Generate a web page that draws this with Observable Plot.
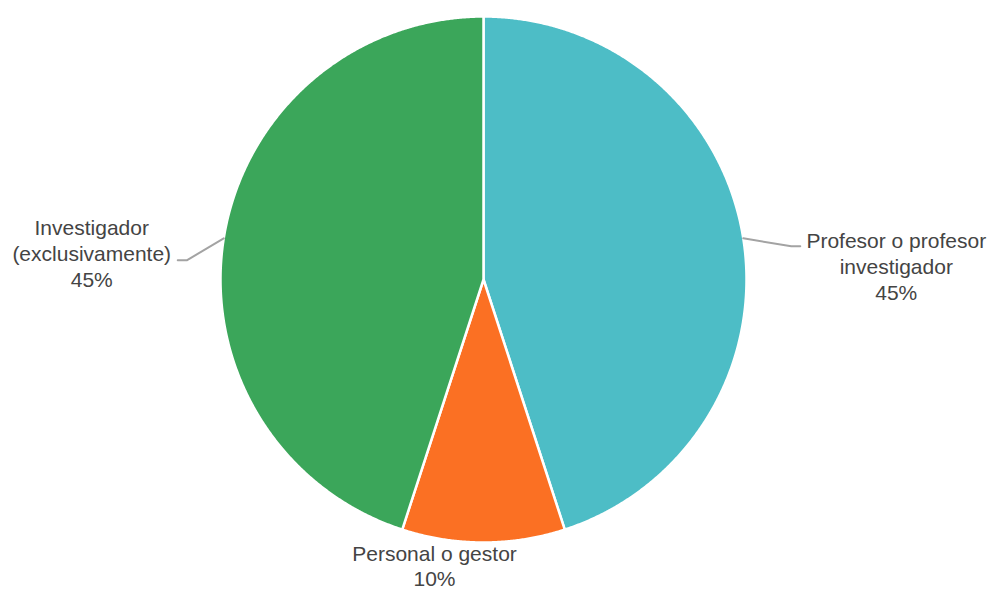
<!DOCTYPE html>
<html><head><meta charset="utf-8">
<script src="https://cdn.jsdelivr.net/npm/d3@7"></script>
<script src="https://cdn.jsdelivr.net/npm/@observablehq/plot@0.6"></script>
<style>body{margin:0;background:#fff;}</style>
</head><body><div id="chart"></div>
<script>
// ---- data ----
const categories = ["Profesor o profesor investigador", "Personal o gestor", "Investigador (exclusivamente)"];
const labelLines = ["Profesor o profesor\ninvestigador", "Personal o gestor", "Investigador\n(exclusivamente)"];
const values = [45, 10, 45];
const colors = ["#4dbdc6", "#fb7023", "#3ba65a"];

// ---- layout (pixels) ----
const W = 990, H = 591, R = 263, CX = 483, CY = 279;
// label block centre and leader elbow, relative to the slice's outer mid-point (px)
const labelLayout = [
  {dx: 153, dy: 27, lh: 1.24, elbow: [48, 8], end: [57, 8]},
  {dx: -49, dy: 23, lh: 1.2, elbow: null, end: null},
  {dx: -132, dy: 14, lh: 1.24, elbow: [-37, 22], end: [-46, 22]}
];

const total = d3.sum(values);
const arcs = d3.pie().sort(null).value(d => d)(values);
const toX = px => px / R, toY = py => -py / R;

const slices = [];
arcs.forEach((a, i) => {
  const n = Math.max(4, Math.ceil((a.endAngle - a.startAngle) / 0.005));
  slices.push({cat: categories[i], x: 0, y: 0});
  for (let k = 0; k <= n; k++) {
    const t = a.startAngle + (a.endAngle - a.startAngle) * k / n;
    slices.push({cat: categories[i], x: Math.sin(t), y: Math.cos(t)});
  }
  slices.push({cat: categories[i], x: 0, y: 0});
});

const labels = [], leaders = [];
arcs.forEach((a, i) => {
  const m = (a.startAngle + a.endAngle) / 2;
  const sx = Math.sin(m), sy = Math.cos(m);
  const L = labelLayout[i];
  const pct = Math.round(values[i] / total * 100) + "%";
  labels.push({text: labelLines[i] + "\n" + pct, x: sx + toX(L.dx), y: sy + toY(L.dy), lh: L.lh});
  if (L.elbow) {
    leaders.push({id: i, x: sx, y: sy});
    leaders.push({id: i, x: sx + toX(L.elbow[0]), y: sy + toY(L.elbow[1])});
    leaders.push({id: i, x: sx + toX(L.end[0]), y: sy + toY(L.end[1])});
  }
});

const textMarks = labels.map(l => Plot.text([l], {x: "x", y: "y", text: "text", fontSize: 21, lineHeight: l.lh, fill: "#444", textAnchor: "middle", lineAnchor: "middle"}));

const chart = Plot.plot({
  width: W, height: H,
  margin: 0,
  style: {fontFamily: "'Liberation Sans', Arial, sans-serif", background: "#fff"},
  x: {domain: [-CX / R, (W - CX) / R], axis: null},
  y: {domain: [-(H - CY) / R, CY / R], axis: null},
  color: {domain: categories, range: colors},
  marks: [
    Plot.line(slices, {x: "x", y: "y", z: "cat", fill: "cat", stroke: "#fff", strokeWidth: 2.5, strokeLinejoin: "round", curve: "linear"}),
    Plot.line(leaders, {x: "x", y: "y", z: "id", stroke: "#a3a3a3", strokeWidth: 2}),
    ...textMarks
  ]
});
document.getElementById("chart").appendChild(chart);
</script>
</body></html>
